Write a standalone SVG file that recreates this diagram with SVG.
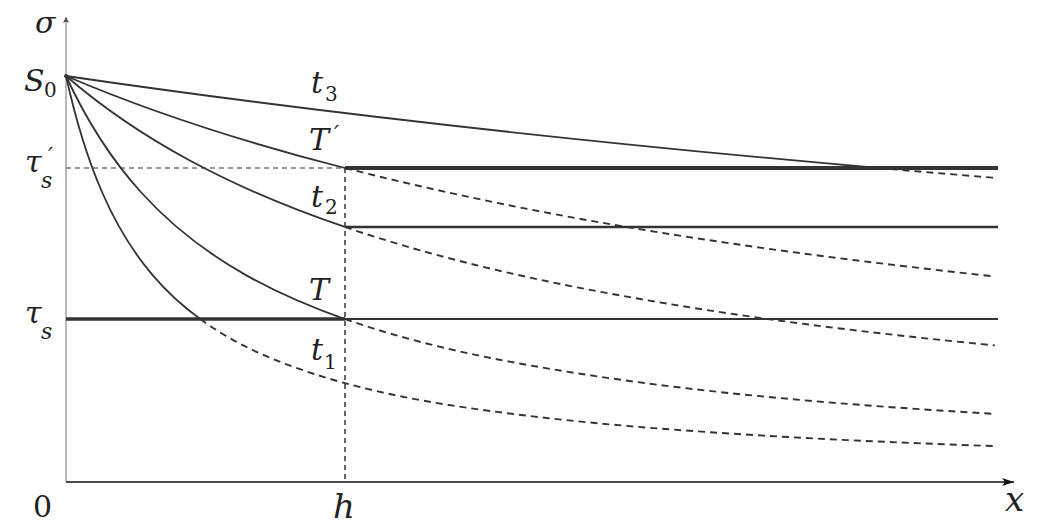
<svg xmlns="http://www.w3.org/2000/svg" width="1044" height="530" viewBox="0 0 1044 530">
<style>
text{font-family:"DejaVu Serif","Liberation Serif",serif;fill:#222}
.lbl{font-style:italic;font-size:30px}
.sub{font-style:normal;font-size:20px}
.subi{font-style:italic;font-size:22px}
.num{font-style:normal;font-size:30px}
.curve{fill:none;stroke:#333;stroke-width:1.8;vector-effect:non-scaling-stroke;stroke-linejoin:round}
.dcurve{fill:none;stroke:#333;stroke-width:1.9;stroke-dasharray:7 5;vector-effect:non-scaling-stroke}
.hl{fill:none;stroke:#333}
</style>
<defs>
<marker id="arrX" markerWidth="12" markerHeight="8" refX="12" refY="4" orient="auto" markerUnits="userSpaceOnUse"><path d="M0,0 L12,4 L0,8 L3,4 Z" fill="#111"/></marker>
<marker id="arrY" markerWidth="6" markerHeight="8" refX="6" refY="3" orient="auto" markerUnits="userSpaceOnUse"><path d="M0,0 L6,3 L0,6 L1.5,3 Z" fill="#444"/></marker>
</defs>
<rect width="1044" height="530" fill="#fff"/>
<g id="axes">
<line x1="66" y1="482" x2="66" y2="17" stroke="#a8a8a8" stroke-width="1.6" marker-end="url(#arrY)"/>
<line x1="66" y1="482" x2="1014" y2="482" stroke="#111" stroke-width="1.6" marker-end="url(#arrX)"/>
</g>
<g id="connectors">
<line class="hl" x1="66" y1="168" x2="345" y2="168" stroke-width="1.2" stroke-dasharray="5 4"/>
<line class="hl" x1="345" y1="168" x2="345" y2="482" stroke-width="1.5" stroke-dasharray="5 4"/>
<line class="hl" x1="345" y1="168" x2="998" y2="168" stroke-width="4"/>
<line class="hl" x1="345" y1="227" x2="998" y2="227" stroke-width="2.3"/>
<line class="hl" x1="66" y1="319" x2="345" y2="319" stroke-width="3.6"/>
<line class="hl" x1="345" y1="319" x2="998" y2="319" stroke-width="2.2"/>
<g id="curve-t3" transform="translate(-2707,482) scale(2773,-406)">
<path class="curve" d="M1,1 C1.09767,0.90233 1.19533,0.831815 1.293,0.773395"/>
<path class="dcurve" d="M1.293,0.773395 C1.307,0.765021 1.321,0.756919 1.335,0.749064"/>
</g>
<g id="curve-Tp" transform="translate(-886,482) scale(952,-406)">
<path class="curve" d="M1,1 C1.09767,0.90233 1.19533,0.831815 1.293,0.773395"/>
<path class="dcurve" d="M1.293,0.773395 C1.520667,0.637218 1.748333,0.564381 1.976,0.506073"/>
</g>
<g id="curve-t2" transform="translate(-405,482) scale(471,-406)">
<path class="curve" d="M1,1 C1.086667,0.913333 1.173333,0.848241 1.26,0.793651 C1.370667,0.723944 1.481333,0.671806 1.592,0.628141"/>
<path class="dcurve" d="M1.592,0.628141 C1.794667,0.548177 1.997333,0.496419 2.2,0.454545 C2.457333,0.401377 2.714667,0.365608 2.972,0.336474"/>
</g>
<g id="curve-T" transform="translate(-121,482) scale(187,-406)">
<path class="curve" d="M1,1 C1.133333,0.866667 1.266667,0.782313 1.4,0.714286 C1.586667,0.619048 1.773333,0.558795 1.96,0.510204 C2.137333,0.464043 2.314667,0.42984 2.492,0.401284"/>
<path class="dcurve" d="M2.492,0.401284 C2.861333,0.341811 3.230667,0.306276 3.6,0.277778 C4.389333,0.216873 5.178667,0.189721 5.968,0.16756"/>
</g>
<g id="curve-t1" transform="translate(-24,482) scale(90,-406)">
<path class="curve" d="M1,1 C1.133333,0.866667 1.266667,0.782313 1.4,0.714286 C1.586667,0.619048 1.773333,0.558795 1.96,0.510204 C2.137333,0.464043 2.314667,0.42984 2.492,0.401284"/>
<path class="dcurve" d="M2.492,0.401284 C2.861333,0.341811 3.230667,0.306276 3.6,0.277778 C4.389333,0.216873 5.178667,0.189721 5.968,0.16756 C6.712,0.146671 7.456,0.133016 8.2,0.121951 C9.24,0.106484 10.28,0.096455 11.32,0.088339"/>
</g>
<circle cx="66" cy="76" r="2" fill="#333"/>
</g>
<g id="label-sigma"><text class="lbl" x="35" y="33">σ</text></g>
<g id="label-S0"><text class="lbl" x="24" y="91">S</text><text class="sub" x="44" y="97">0</text></g>
<g id="label-tau-s-prime"><text class="lbl" x="25" y="172">τ</text><text class="subi" x="48" y="163">′</text><text class="subi" x="41" y="188">s</text></g>
<g id="label-tau-s"><text class="lbl" x="25" y="323">τ</text><text class="subi" x="41" y="339">s</text></g>
<g id="label-t3"><text class="lbl" x="311" y="93">t</text><text class="sub" x="325" y="101">3</text></g>
<g id="label-Tprime"><text class="lbl" x="309" y="150">T</text><text class="subi" x="334" y="141">′</text></g>
<g id="label-t2"><text class="lbl" x="311" y="207">t</text><text class="sub" x="325" y="214">2</text></g>
<g id="label-T"><text class="lbl" x="309" y="300">T</text></g>
<g id="label-t1"><text class="lbl" x="311" y="360">t</text><text class="sub" x="324" y="369">1</text></g>
<g id="label-0"><text class="num" x="33" y="517">0</text></g>
<g id="label-h"><text class="lbl" x="333" y="518" style="font-size:34px">h</text></g>
<g id="label-x"><text class="lbl" x="1005" y="511" style="font-size:34px">x</text></g>
</svg>
